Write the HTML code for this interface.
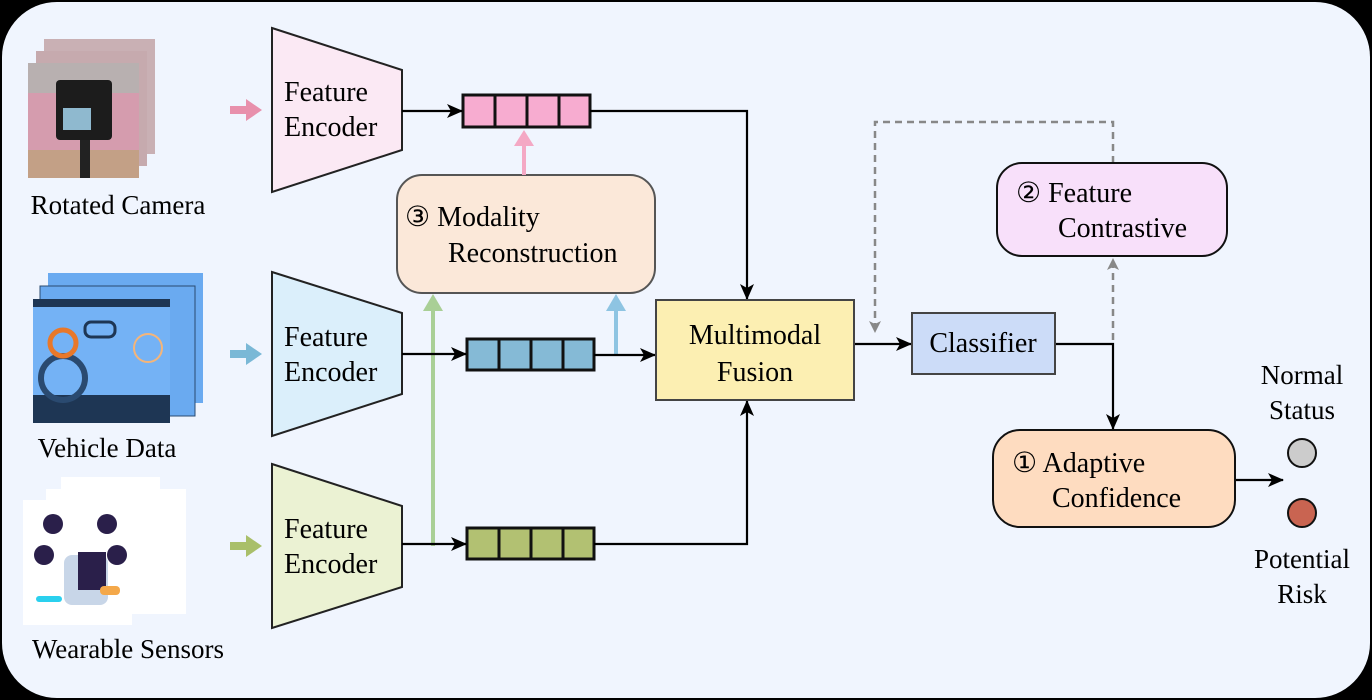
<!DOCTYPE html>
<html><head><meta charset="utf-8"><style>
html,body{margin:0;padding:0;background:#000;}
svg{display:block;}
svg text{font-family:"Liberation Serif","Times New Roman",Times,serif;}
</style></head><body>
<svg width="1372" height="700" viewBox="0 0 1372 700" xmlns="http://www.w3.org/2000/svg" font-family="Liberation Serif, serif">
<defs>
<marker id="ab" markerWidth="16" markerHeight="14" refX="15" refY="7" orient="auto" markerUnits="userSpaceOnUse"><path d="M0,0 L16,7 L0,14 L4,7 z" fill="#000"/></marker>
<marker id="ag" markerWidth="12" markerHeight="12" refX="11" refY="6" orient="auto" markerUnits="userSpaceOnUse"><path d="M0,0 L12,6 L0,12 L3,6 z" fill="#888"/></marker>
</defs>
<rect x="0" y="0" width="1372" height="700" fill="#000"/>
<rect x="2" y="2" width="1368" height="696" rx="55" fill="#f0f5fe"/>

<!-- camera images -->
<g>
<rect x="44" y="39" width="111" height="115" fill="#c9b0b4"/>
<rect x="36" y="51" width="111" height="115" fill="#c6aaae"/>
<rect x="28" y="63" width="111" height="115" fill="#d59cae"/>
<rect x="28" y="63" width="111" height="30" fill="#b8b0b0"/>
<rect x="28" y="150" width="111" height="28" fill="#b7a36a" opacity="0.6"/>
<rect x="56" y="80" width="56" height="60" rx="4" fill="#1c1c1c"/>
<rect x="63" y="108" width="28" height="22" fill="#8fb9cf"/>
<rect x="80" y="140" width="10" height="38" fill="#222"/>
</g>
<!-- vehicle images -->
<g>
<rect x="48" y="273" width="155" height="130" fill="#6aaaf0"/>
<rect x="40" y="286" width="155" height="130" fill="#6aaaf0" stroke="#2a4a70"/>
<rect x="33" y="299" width="137" height="124" fill="#74b2f5"/>
<rect x="33" y="299" width="137" height="8" fill="#1e3654"/>
<rect x="33" y="395" width="137" height="28" fill="#1e3654"/>
<circle cx="63" cy="378" r="22" fill="none" stroke="#2a4a70" stroke-width="6"/>
<rect x="85" y="322" width="30" height="15" rx="6" fill="none" stroke="#1e3654" stroke-width="3"/>
<circle cx="63" cy="343" r="13" fill="none" stroke="#e8782a" stroke-width="5"/>
<circle cx="148" cy="348" r="14" fill="none" stroke="#f4b57a" stroke-width="2"/>
</g>
<!-- wearable images -->
<g>
<rect x="61" y="477" width="99" height="123" fill="#fff"/>
<rect x="46" y="489" width="140" height="125" fill="#fff"/>
<rect x="23" y="500" width="109" height="125" fill="#fff"/>
<circle cx="53" cy="524" r="10" fill="#2a1f4a"/>
<circle cx="107" cy="524" r="10" fill="#2a1f4a"/>
<circle cx="44" cy="555" r="10" fill="#2a1f4a"/>
<circle cx="117" cy="555" r="10" fill="#2a1f4a"/>
<rect x="64" y="555" width="44" height="50" rx="8" fill="#c8d6e8"/>
<rect x="78" y="552" width="28" height="38" fill="#2a1f4a"/>
<rect x="36" y="596" width="26" height="6" rx="3" fill="#2ad0ee"/>
<rect x="100" y="586" width="20" height="9" rx="4" fill="#f4a84a"/>
</g>

<text x="118" y="214" font-size="27" text-anchor="middle">Rotated Camera</text>
<text x="107" y="457" font-size="27" text-anchor="middle">Vehicle Data</text>
<text x="128" y="658" font-size="27" text-anchor="middle">Wearable Sensors</text>

<!-- input arrows -->
<path d="M230,106 h16 v-7 l16,11 l-16,11 v-7 h-16z" fill="#e890ac"/>
<path d="M230,350 h16 v-7 l16,11 l-16,11 v-7 h-16z" fill="#7ab8d6"/>
<path d="M230,542 h16 v-7 l16,11 l-16,11 v-7 h-16z" fill="#a9bf6a"/>

<!-- encoders -->
<polygon points="272,28 402,70 402,150 272,192" fill="#fbe9f4" stroke="#222" stroke-width="2"/>
<polygon points="272,272 402,313 402,394 272,436" fill="#dbeffb" stroke="#222" stroke-width="2"/>
<polygon points="272,464 402,506 402,587 272,628" fill="#ebf2d3" stroke="#222" stroke-width="2"/>
<g font-size="28">
<text x="284" y="101">Feature</text><text x="284" y="136">Encoder</text>
<text x="284" y="346">Feature</text><text x="284" y="381">Encoder</text>
<text x="284" y="538">Feature</text><text x="284" y="573">Encoder</text>
</g>

<!-- vectors -->
<g stroke="#111" stroke-width="3">
<rect x="463" y="95" width="127" height="32" fill="#f7acd0"/>
<line x1="495" y1="95" x2="495" y2="127"/><line x1="527" y1="95" x2="527" y2="127"/><line x1="559" y1="95" x2="559" y2="127"/>
<rect x="467" y="339" width="127" height="31" fill="#85bad6"/>
<line x1="499" y1="339" x2="499" y2="370"/><line x1="531" y1="339" x2="531" y2="370"/><line x1="563" y1="339" x2="563" y2="370"/>
<rect x="467" y="528" width="127" height="31" fill="#b2c172"/>
<line x1="499" y1="528" x2="499" y2="559"/><line x1="531" y1="528" x2="531" y2="559"/><line x1="563" y1="528" x2="563" y2="559"/>
</g>

<!-- reconstruction box -->
<rect x="397" y="175" width="258" height="118" rx="25" fill="#fbe8d9" stroke="#555" stroke-width="2"/>
<text x="405" y="226" font-size="28">③ Modality</text>
<text x="448" y="262" font-size="28">Reconstruction</text>

<!-- colored reconstruction arrows -->
<line x1="524" y1="175" x2="524" y2="140" stroke="#f4a8c4" stroke-width="4"/>
<path d="M514,146 L524,130 L534,146z" fill="#f4a8c4"/>
<line x1="433" y1="546" x2="433" y2="305" stroke="#a9cf96" stroke-width="4"/>
<path d="M423,311 L433,294 L443,311z" fill="#a9cf96"/>
<line x1="616" y1="354" x2="616" y2="305" stroke="#8ec4e2" stroke-width="4"/>
<path d="M606,311 L616,294 L626,311z" fill="#8ec4e2"/>

<!-- black connectors -->
<g stroke="#000" stroke-width="2.2" fill="none">
<line x1="402" y1="111" x2="462" y2="111" marker-end="url(#ab)"/>
<line x1="402" y1="354" x2="466" y2="354" marker-end="url(#ab)"/>
<line x1="402" y1="544" x2="466" y2="544" marker-end="url(#ab)"/>
<polyline points="590,111 747,111 747,299" marker-end="url(#ab)"/>
<polyline points="594,544 747,544 747,401" marker-end="url(#ab)"/>
<line x1="594" y1="355" x2="655" y2="355" marker-end="url(#ab)"/>
<line x1="854" y1="344" x2="911" y2="344" marker-end="url(#ab)"/>
<polyline points="1056,344 1113,344 1113,429" marker-end="url(#ab)"/>
<line x1="1235" y1="480" x2="1283" y2="480" marker-end="url(#ab)"/>
</g>
<!-- dashed -->
<g stroke="#888" stroke-width="2.5" fill="none" stroke-dasharray="7,5">
<line x1="1113" y1="340" x2="1113" y2="259" marker-end="url(#ag)"/>
<polyline points="1113,163 1113,122 875,122 875,332" marker-end="url(#ag)"/>
</g>

<!-- fusion -->
<rect x="656" y="300" width="198" height="100" fill="#fcefb2" stroke="#444" stroke-width="2"/>
<text x="755" y="344" font-size="28" text-anchor="middle">Multimodal</text>
<text x="755" y="381" font-size="28" text-anchor="middle">Fusion</text>
<!-- classifier -->
<rect x="912" y="313" width="143" height="61" fill="#ccdcf8" stroke="#444" stroke-width="2"/>
<text x="983" y="352" font-size="28" text-anchor="middle">Classifier</text>
<!-- contrastive -->
<rect x="997" y="163" width="230" height="93" rx="25" fill="#f8e0fa" stroke="#111" stroke-width="2"/>
<text x="1016" y="202" font-size="28">② Feature</text>
<text x="1058" y="237" font-size="28">Contrastive</text>
<!-- adaptive -->
<rect x="993" y="430" width="242" height="97" rx="27" fill="#fedcc0" stroke="#111" stroke-width="2"/>
<text x="1012" y="472" font-size="28">① Adaptive</text>
<text x="1052" y="507" font-size="28">Confidence</text>

<!-- outputs -->
<text x="1302" y="384" font-size="27" text-anchor="middle">Normal</text>
<text x="1302" y="419" font-size="27" text-anchor="middle">Status</text>
<circle cx="1302" cy="453" r="14" fill="#cccccc" stroke="#111" stroke-width="2"/>
<circle cx="1302" cy="513" r="14" fill="#c96451" stroke="#111" stroke-width="2"/>
<text x="1302" y="568" font-size="27" text-anchor="middle">Potential</text>
<text x="1302" y="603" font-size="27" text-anchor="middle">Risk</text>
</svg>
</body></html>
